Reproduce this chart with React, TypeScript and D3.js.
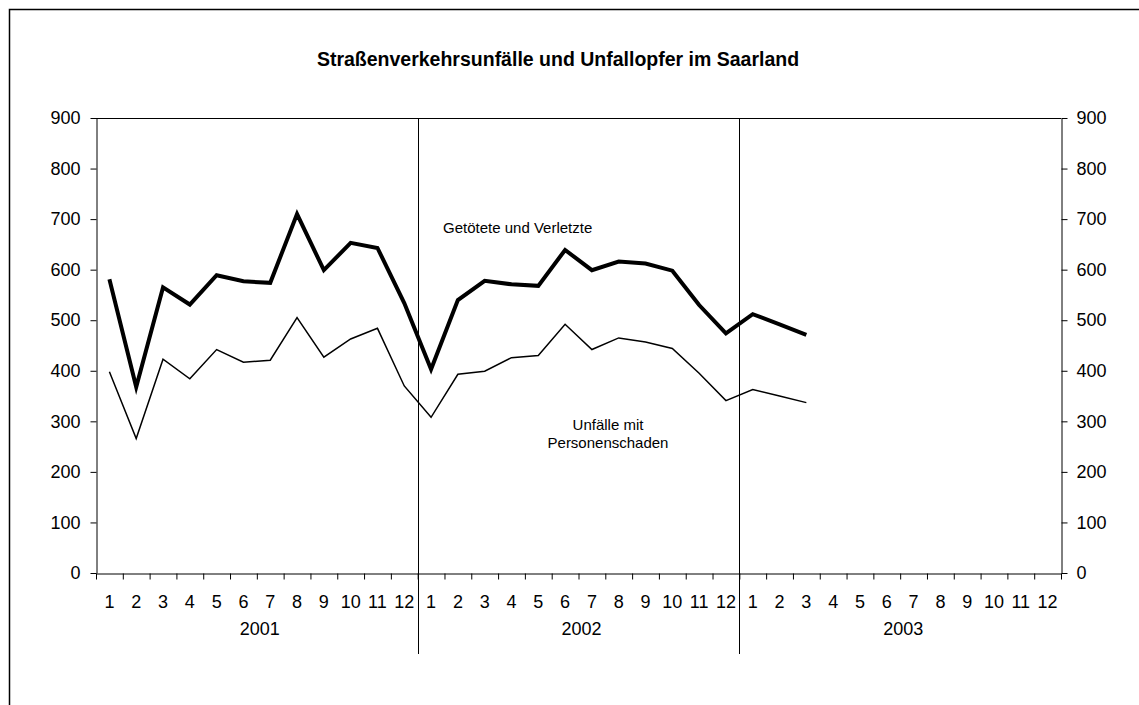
import React, { useRef, useEffect } from "react";
import * as d3 from "d3";

// Chart data
const years: string[] = ["2001", "2002", "2003"];
const monthLabels: string[] = ["1", "2", "3", "4", "5", "6", "7", "8", "9", "10", "11", "12"];
const yTicks: number[] = [0, 100, 200, 300, 400, 500, 600, 700, 800, 900];

// Getötete und Verletzte (Jan 2001 - Mar 2003)
const getoeteteVerletzte: number[] = [
  581, 368, 565, 531, 589, 577, 574, 710, 599, 653, 643, 534,
  403, 540, 578, 571, 568, 639, 599, 616, 612, 598, 530, 474,
  512, 492, 471,
];

// Unfälle mit Personenschaden
const unfaelleMitPersonenschaden: number[] = [
  398, 266, 423, 384, 442, 417, 421, 505, 427, 463, 484, 370,
  308, 393, 399, 426, 430, 492, 442, 465, 457, 444, 395, 341,
  363, 350, 337,
];

const title = "Straßenverkehrsunfälle und Unfallopfer im Saarland";
const labelVerletzte = "Getötete und Verletzte";
const labelUnfaelle = ["Unfälle mit", "Personenschaden"];

const App: React.FC = () => {
  const svgRef = useRef<SVGSVGElement | null>(null);

  useEffect(() => {
    const width = 1139;
    const height = 705;
    const left = 96;
    const right = 1061;
    const top = 118;
    const bottom = 573;
    const font = "Arial, 'Liberation Sans', sans-serif";

    const svg = d3.select(svgRef.current);
    svg.selectAll("*").remove();
    svg.attr("width", width).attr("height", height).style("font-family", font);

    // outer frame (right/bottom edges lie outside the picture)
    svg
      .append("rect")
      .attr("x", 9.5)
      .attr("y", 9.5)
      .attr("width", 1300)
      .attr("height", 900)
      .attr("fill", "none")
      .attr("stroke", "#000")
      .attr("stroke-width", 1.5);

    svg
      .append("text")
      .attr("x", 558)
      .attr("y", 66)
      .attr("text-anchor", "middle")
      .style("font-size", "19.5px")
      .style("font-weight", "bold")
      .text(title);

    const periods: string[] = years.flatMap((yr) => monthLabels.map((m) => `${yr}-${m}`));

    const x = d3.scaleBand<string>().domain(periods).range([left, right]).padding(0);
    const xi = d3.scaleLinear().domain([0, periods.length]).range([left, right]);
    const y = d3.scaleLinear().domain([0, 900]).range([bottom, top]);

    // plot frame top line
    svg
      .append("line")
      .attr("x1", left)
      .attr("x2", right)
      .attr("y1", top + 0.5)
      .attr("y2", top + 0.5)
      .attr("stroke", "#000");

    // y axes
    const styleAxis = (g: d3.Selection<SVGGElement, unknown, null, undefined>) => {
      g.selectAll("path").attr("stroke", "#000");
      g.selectAll("line").attr("stroke", "#000");
      g.selectAll("text").style("font-size", "18px").style("font-family", font).attr("fill", "#000");
    };

    svg
      .append("g")
      .attr("transform", `translate(${left + 0.5},0)`)
      .call(d3.axisLeft(y).tickValues(yTicks).tickSizeInner(6).tickSizeOuter(0).tickPadding(10))
      .call(styleAxis);

    svg
      .append("g")
      .attr("transform", `translate(${right + 0.5},0)`)
      .call(d3.axisRight(y).tickValues(yTicks).tickSizeInner(6).tickSizeOuter(0).tickPadding(9))
      .call(styleAxis);

    // x axis: boundary ticks
    svg
      .append("g")
      .attr("transform", `translate(0,${bottom + 0.5})`)
      .call(
        d3
          .axisBottom(xi)
          .tickValues(d3.range(periods.length + 1))
          .tickFormat(() => "")
          .tickSizeInner(6)
          .tickSizeOuter(0)
      )
      .call(styleAxis);

    // x axis: month labels
    svg
      .append("g")
      .attr("transform", `translate(0,${bottom})`)
      .call(
        d3
          .axisBottom(x)
          .tickFormat((d) => d.split("-")[1])
          .tickSize(0)
          .tickPadding(22)
      )
      .call((g) => g.select(".domain").remove())
      .call(styleAxis);

    // year labels
    svg
      .selectAll(".year")
      .data(years)
      .join("text")
      .attr("x", (d, i) => (xi(i * 12) + xi(i * 12 + 12)) / 2 + 3)
      .attr("y", 635)
      .attr("text-anchor", "middle")
      .style("font-size", "18px")
      .text((d) => d);

    // year separators
    svg
      .selectAll(".sep")
      .data([12, 24])
      .join("line")
      .attr("x1", (d) => Math.round(xi(d)) + 0.5)
      .attr("x2", (d) => Math.round(xi(d)) + 0.5)
      .attr("y1", top)
      .attr("y2", 654)
      .attr("stroke", "#000")
      .attr("stroke-width", 1);

    const cx = (i: number) => (x(periods[i]) as number) + x.bandwidth() / 2;

    const line = d3
      .line<number>()
      .x((d, i) => cx(i))
      .y((d) => y(d));

    svg
      .append("path")
      .datum(unfaelleMitPersonenschaden)
      .attr("fill", "none")
      .attr("stroke", "#000")
      .attr("stroke-width", 1.5)
      .attr("stroke-linejoin", "miter")
      .attr("d", line);

    svg
      .append("path")
      .datum(getoeteteVerletzte)
      .attr("fill", "none")
      .attr("stroke", "#000")
      .attr("stroke-width", 4)
      .attr("stroke-linejoin", "miter")
      .attr("d", line);

    // series labels
    svg
      .append("text")
      .attr("x", 443)
      .attr("y", 233)
      .style("font-size", "15px")
      .text(labelVerletzte);

    svg
      .selectAll(".lblU")
      .data(labelUnfaelle)
      .join("text")
      .attr("x", 608)
      .attr("y", (d, i) => 430 + i * 18)
      .attr("text-anchor", "middle")
      .style("font-size", "15px")
      .text((d) => d);
  }, []);

  return (
    <div style={{ position: "absolute", left: 0, top: 0 }}>
      <svg ref={svgRef} style={{ display: "block", background: "#fff" }}></svg>
    </div>
  );
};

export default App;
